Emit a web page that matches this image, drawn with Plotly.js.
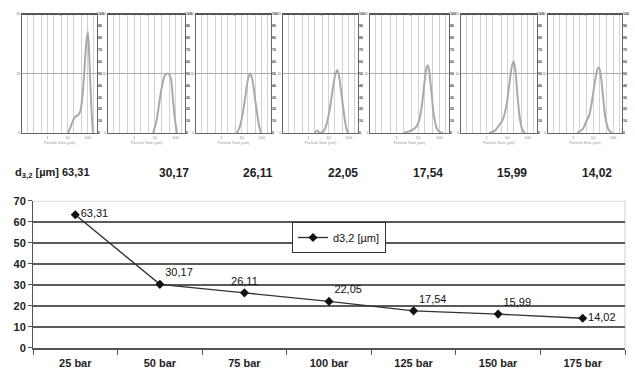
<!DOCTYPE html>
<html><head><meta charset="utf-8">
<script src="https://cdn.plot.ly/plotly-3.0.1.min.js"></script>
<style>html,body{margin:0;padding:0;background:#fff}#chart{width:635px;height:373px}</style>
</head><body><div id="chart"></div>
<script>
// ---- data ----
const pressures = ['25 bar','50 bar','75 bar','100 bar','125 bar','150 bar','175 bar'];
const d32 = [63.31, 30.17, 26.11, 22.05, 17.54, 15.99, 14.02];
const labelPositions = ['middle right','top right','top center','top right','top right','top right','middle right'];

// particle size distributions (size in µm, volume %)
const size1 = [10.5, 14, 18, 25, 32, 42, 55, 70, 85, 100, 120, 150, 178];
const vol1  = [0, 1.0, 2.0, 2.8, 3.0, 3.6, 6.5, 11.5, 15.5, 17, 12, 4, 0];
const size2 = [8.2, 12, 17, 24, 32, 40, 50, 60, 75, 95, 117];
const vol2  = [0, 2, 5.5, 8.5, 9.8, 10, 9.8, 9, 5.5, 2, 0];
const size3 = [5.9, 8, 11, 15, 20, 26, 33, 45, 60, 75, 91];
const vol3  = [0, 1, 3, 6, 8.8, 10, 9.2, 6, 3, 1, 0];
const size4 = [2, 2.8, 3.6, 5.6, 8, 12, 17, 22, 27, 33, 45, 60, 75, 92];
const vol4  = [0, 0.4, 0, 0.3, 1.5, 4.5, 8, 10, 10.6, 9.5, 6, 2.8, 0.8, 0];
const size5 = [2.1, 4, 6, 8, 11, 15, 20, 25, 28.4, 33, 42, 55, 75, 100, 147];
const vol5  = [0, 0.3, 0.6, 1, 2, 4.5, 8.5, 11, 11.4, 10.5, 7, 3, 0.8, 0.2, 0];
const size6 = [1.35, 2.5, 4.2, 6, 9, 13, 17, 20.7, 25, 32, 42, 55, 72];
const vol6  = [0, 0.4, 1.4, 2.2, 4.5, 8.5, 11.3, 12, 10.5, 6, 2.2, 0.5, 0];
const size7 = [1.6, 3, 4.2, 5, 6.5, 9, 13, 17, 20, 25, 32, 42, 60, 89];
const vol7  = [0, 0.6, 1.6, 2.2, 3, 5.5, 9, 10.8, 11, 9.5, 6, 2.5, 0.6, 0];

const volTicks = [0, 10, 20];
const cumTicks = [0, 10, 20, 30, 40, 50, 60, 70, 80, 90, 100];
const sizeGrid = [0.1, 0.2, 0.5, 1, 2, 5, 10, 20, 50, 100, 200];
const sizeGridText = ['', '', '', '1', '', '', '10', '', '', '100', ''];

const sizes = [size1, size2, size3, size4, size5, size6, size7];
const vols = [vol1, vol2, vol3, vol4, vol5, vol6, vol7];

// ---- layout geometry ----
const W = 635, H = 373;
const panelLeft = [22, 108, 196, 283, 370, 461, 548];
const panelRight = [97, 185, 271, 358, 449, 537, 622];
const panelDomY = [1 - 133 / H, 1 - 14 / H];
const FONT = 'Liberation Sans, Arial, sans-serif';
const fmt = v => v.toFixed(2).replace('.', ',');

const traces = [];
const layout = {
  width: W, height: H,
  margin: {l: 0, r: 0, t: 0, b: 0},
  paper_bgcolor: '#fff', plot_bgcolor: 'rgba(0,0,0,0)',
  font: {family: FONT, color: '#222'},
  showlegend: true,
  annotations: [], shapes: []
};

for (let i = 0; i < 7; i++) {
  const n = i + 1;
  const xs = n === 1 ? '' : String(n);
  traces.push({
    x: sizes[i], y: vols[i], xaxis: 'x' + xs, yaxis: 'y' + xs,
    mode: 'lines', line: {color: '#aaaaaa', width: 2, shape: 'spline', smoothing: 0.8},
    showlegend: false, hoverinfo: 'skip'
  });
  // empty trace so that the cumulative (right) axis is drawn
  traces.push({
    x: [], y: [], xaxis: 'x' + xs, yaxis: 'y' + (8 + n),
    mode: 'lines', showlegend: false, hoverinfo: 'skip'
  });
  layout['xaxis' + xs] = {
    type: 'log', range: [-1.25, 2.45],
    domain: [panelLeft[i] / W, panelRight[i] / W], anchor: 'y' + xs,
    tickmode: 'array', tickvals: sizeGrid, ticktext: sizeGridText,
    showgrid: true, gridcolor: '#d2d2d2', gridwidth: 1,
    showline: true, mirror: true, linecolor: '#666', linewidth: 1,
    ticks: '', tickfont: {size: 4, color: '#888'}, zeroline: false,
    title: {text: 'Particle Size (µm)', font: {size: 4, color: '#999'}, standoff: 1}
  };
  layout['yaxis' + xs] = {
    range: [0, 20], domain: panelDomY, anchor: 'x' + xs,
    tickmode: 'array', tickvals: volTicks,
    showgrid: true, gridcolor: '#aaa', gridwidth: 1,
    showline: true, mirror: true, linecolor: '#666', linewidth: 1,
    ticks: '', ticklabelstandoff: 0, tickfont: {size: 3.5, color: '#777'}, zeroline: false
  };
  layout['yaxis' + (8 + n)] = {
    range: [0, 100], overlaying: 'y' + xs, anchor: 'x' + xs, side: 'right',
    tickmode: 'array', tickvals: cumTicks, showgrid: false, zeroline: false,
    showline: false, ticks: '', ticklabelstandoff: 0,
    tickfont: {size: 3.5, color: '#333', weight: 'bold'}
  };
  layout.shapes.push({
    type: 'line', xref: 'x' + xs + ' domain', yref: 'y' + xs + ' domain',
    x0: 0, x1: 1, y0: 1, y1: 1, line: {color: '#555', width: 2}, layer: 'above'
  });
  layout.annotations.push({
    xref: 'x' + xs + ' domain', yref: 'paper', x: 0.5, y: 1 - 10 / H,
    text: '%', showarrow: false, font: {size: 4, color: '#777'}
  });
}

// d3,2 row labels
for (let i = 0; i < 7; i++) {
  layout.annotations.push({
    xref: 'x8', yref: 'paper', x: pressures[i], y: 1 - 173 / H,
    xshift: i === 0 ? 17 : 14, xanchor: i === 0 ? 'right' : 'center', yanchor: 'middle',
    text: i === 0 ? 'd<sub>3,2</sub> [µm] ' + fmt(d32[i]) : fmt(d32[i]),
    showarrow: false, font: {size: i === 0 ? 11 : 12, family: FONT, weight: 'bold', color: '#222'}
  });
}

// main chart
traces.push({
  x: pressures, y: d32, xaxis: 'x8', yaxis: 'y8',
  mode: 'lines+markers+text', name: 'd3,2 [µm]',
  text: d32.map(fmt), textposition: labelPositions,
  textfont: {size: 11, family: FONT, color: '#111'},
  line: {color: '#333', width: 1.4},
  marker: {symbol: 'diamond', size: 7, color: '#111'},
  cliponaxis: false, hoverinfo: 'skip'
});
layout.xaxis8 = {
  type: 'category', domain: [33 / W, 625 / W], anchor: 'y8', range: [-0.5, 6.5],
  tickson: 'boundaries', ticks: 'outside', ticklen: 5, tickcolor: '#555', tickwidth: 1,
  showline: true, linecolor: '#555', linewidth: 2, showgrid: false,
  ticklabelstandoff: 4,
  tickfont: {family: FONT, size: 11, weight: 'bold', color: '#222'}
};
layout.yaxis8 = {
  domain: [1 - 347.7 / H, 1 - 200.7 / H], anchor: 'x8', range: [0, 70], dtick: 10,
  showgrid: true, gridcolor: '#5a5a5a', gridwidth: 2,
  showline: true, linecolor: '#555', linewidth: 1, zeroline: false,
  ticks: 'outside', ticklen: 4, tickcolor: '#555',
  tickfont: {family: FONT, size: 11, weight: 'bold', color: '#222'}
};
layout.shapes.push(
  {type: 'line', xref: 'x8 domain', yref: 'y8', x0: 0, x1: 1, y0: 70, y1: 70, line: {color: '#dcdcdc', width: 2}, layer: 'above'},
  {type: 'line', xref: 'x8 domain', yref: 'y8 domain', x0: 1, x1: 1, y0: 0, y1: 1, line: {color: '#dcdcdc', width: 1.5}, layer: 'below'}
);
layout.legend = {
  x: 292 / W, y: 1 - 222 / H, xanchor: 'left', yanchor: 'top',
  bgcolor: '#fff', bordercolor: '#333', borderwidth: 1,
  font: {family: FONT, size: 11, color: '#111'},
  itemwidth: 30, tracegroupgap: 0
};

Plotly.newPlot('chart', traces, layout, {staticPlot: true, displayModeBar: false});
</script>
</body></html>
